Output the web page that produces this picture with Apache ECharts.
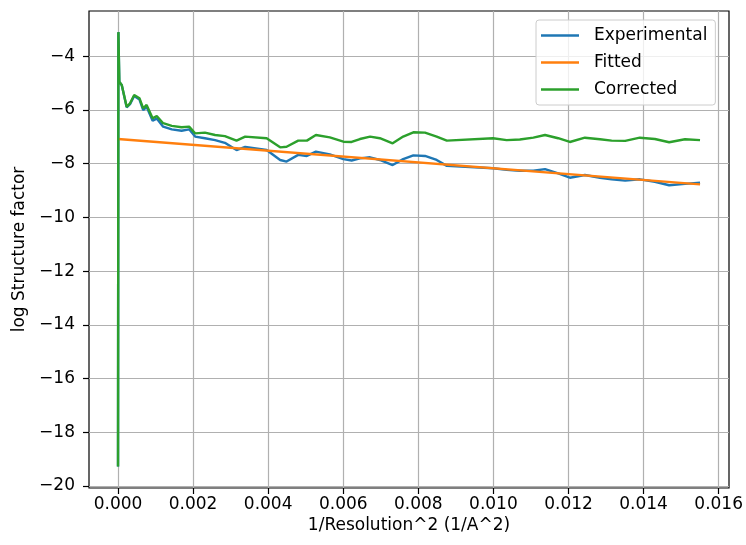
<!DOCTYPE html>
<html>
<head>
<meta charset="utf-8">
<script src="https://cdn.jsdelivr.net/npm/echarts@6/dist/echarts.min.js"></script>
<style>
html,body{margin:0;padding:0;background:#fff;}
#chart{width:746px;height:545px;}
</style>
</head>
<body>
<div id="chart"></div>
<script>
// ---- data ----
const resInvSq = [0, 0.00001, 0.000035, 0.0001, 0.00023, 0.00032, 0.00043, 0.00057, 0.00067, 0.00076,
  0.00092, 0.00103, 0.0012, 0.00143, 0.00169, 0.00189, 0.00205, 0.00231, 0.00258, 0.00284,
  0.00315, 0.00338, 0.00395, 0.00431, 0.00448, 0.00479, 0.00502, 0.00526, 0.00563, 0.00599,
  0.00621, 0.00643, 0.0067, 0.00696, 0.0073, 0.00758, 0.00785, 0.00816, 0.00847, 0.00874,
  0.00997, 0.01033, 0.01068, 0.01104, 0.01135, 0.0117, 0.01201, 0.01241, 0.01281, 0.01312,
  0.01348, 0.01387, 0.01427, 0.01465, 0.01507, 0.01547];
const experimental = [-19.27, -3.1, -4.95, -5.08, -5.90, -5.78, -5.48, -5.61, -6.00, -5.88,
  -6.40, -6.32, -6.62, -6.72, -6.77, -6.72, -6.99, -7.05, -7.12, -7.22,
  -7.49, -7.37, -7.49, -7.86, -7.92, -7.67, -7.71, -7.55, -7.65, -7.83,
  -7.88, -7.80, -7.76, -7.86, -8.05, -7.83, -7.69, -7.71, -7.86, -8.08,
  -8.17, -8.23, -8.26, -8.26, -8.20, -8.36, -8.52, -8.42, -8.52, -8.58,
  -8.63, -8.58, -8.67, -8.80, -8.75, -8.71];
const corrected = [-19.27, -3.1, -4.95, -5.07, -5.88, -5.75, -5.44, -5.56, -5.94, -5.81,
  -6.31, -6.22, -6.49, -6.59, -6.64, -6.62, -6.87, -6.84, -6.93, -6.97,
  -7.14, -6.99, -7.05, -7.39, -7.37, -7.14, -7.14, -6.93, -7.02, -7.18,
  -7.19, -7.08, -6.99, -7.05, -7.24, -6.99, -6.83, -6.84, -6.99, -7.14,
  -7.05, -7.12, -7.10, -7.03, -6.93, -7.05, -7.19, -7.03, -7.09, -7.14,
  -7.15, -7.03, -7.08, -7.20, -7.09, -7.12];
const fittedX = [0, 0.01547];
const fitted = [-7.08, -8.77];
const seriesNames = ['Experimental', 'Fitted', 'Corrected'];
const xTickMin = 0, xTickMax = 0.016, xTickStep = 0.002;
const yTickMin = -20, yTickMax = -4, yTickStep = 2;
const xLabel = '1/Resolution^2 (1/A^2)';
const yLabel = 'log Structure factor';

const pairs = (xs, ys) => xs.map((x, i) => [x, ys[i]]);
const FONT = 'DejaVu Sans';
const FS = 17;
const gridColor = '#b0b0b0';

const chart = echarts.init(document.getElementById('chart'), null, {renderer: 'canvas'});
chart.setOption({
  animation: false,
  backgroundColor: '#ffffff',
  textStyle: {fontFamily: FONT},
  grid: [
    {left: 118, right: 26, top: 11, bottom: 57},
    {left: 89, right: 17, top: 56.3, bottom: 59},
    {left: 89, right: 17, top: 11, bottom: 57, show: true, borderColor: '#000', borderWidth: 1.2, backgroundColor: 'transparent'}
  ],
  xAxis: [
    {gridIndex: 0, type: 'value', min: xTickMin, max: xTickMax, interval: xTickStep,
      axisLine: {show: false},
      axisTick: {show: true, length: 6, lineStyle: {color: '#000', width: 1.2}},
      axisLabel: {color: '#000', fontSize: FS, fontFamily: FONT, margin: 8, formatter: v => v.toFixed(3)},
      splitLine: {show: true, lineStyle: {color: gridColor, width: 1.2}}},
    {gridIndex: 1, type: 'value', show: false, min: 0, max: 1},
    {gridIndex: 2, type: 'value', min: -0.000771, max: 0.01624,
      axisLine: {show: false}, axisTick: {show: false}, axisLabel: {show: false}, splitLine: {show: false},
      name: xLabel, nameLocation: 'middle', nameGap: 29,
      nameTextStyle: {color: '#000', fontSize: FS, fontFamily: FONT}}
  ],
  yAxis: [
    {gridIndex: 0, type: 'value', show: false, min: 0, max: 1},
    {gridIndex: 1, type: 'value', min: yTickMin, max: yTickMax, interval: yTickStep,
      axisLine: {show: false},
      axisTick: {show: true, length: 6, lineStyle: {color: '#000', width: 1.2}},
      axisLabel: {color: '#000', fontSize: FS, fontFamily: FONT, margin: 14,
        formatter: v => (v < 0 ? '\u2212' : '') + Math.abs(v)},
      splitLine: {show: true, lineStyle: {color: gridColor, width: 1.2}}},
    {gridIndex: 2, type: 'value', min: -20.074, max: -2.313,
      axisLine: {show: false}, axisTick: {show: false}, axisLabel: {show: false}, splitLine: {show: false},
      name: yLabel, nameLocation: 'middle', nameGap: 61, nameRotate: 90,
      nameTextStyle: {color: '#000', fontSize: FS, fontFamily: FONT}}
  ],
  legend: {
    orient: 'vertical', left: 536, top: 20,
    data: seriesNames,
    icon: 'rect', itemWidth: 38, itemHeight: 2.5, itemGap: 10,
    padding: [7, 8, 7, 5],
    backgroundColor: 'rgba(255,255,255,0.8)', borderColor: '#cccccc', borderWidth: 1, borderRadius: 3,
    textStyle: {color: '#000', fontSize: FS, fontFamily: FONT, padding: [0, 0, 0, 10]}
  },
  series: [
    {name: seriesNames[0], type: 'line', xAxisIndex: 2, yAxisIndex: 2, data: pairs(resInvSq, experimental),
      showSymbol: false, symbol: 'none', color: '#1f77b4', lineStyle: {width: 2.4, color: '#1f77b4'}, z: 3},
    {name: seriesNames[1], type: 'line', xAxisIndex: 2, yAxisIndex: 2, data: pairs(fittedX, fitted),
      showSymbol: false, symbol: 'none', color: '#ff7f0e', lineStyle: {width: 2.4, color: '#ff7f0e'}, z: 4},
    {name: seriesNames[2], type: 'line', xAxisIndex: 2, yAxisIndex: 2, data: pairs(resInvSq, corrected),
      showSymbol: false, symbol: 'none', color: '#2ca02c', lineStyle: {width: 2.4, color: '#2ca02c'}, z: 5}
  ]
});
</script>
</body>
</html>
